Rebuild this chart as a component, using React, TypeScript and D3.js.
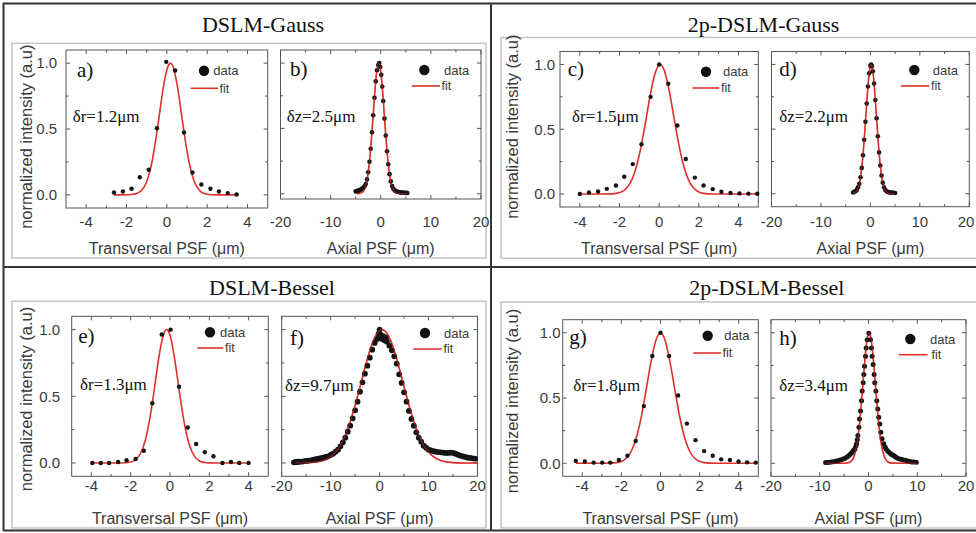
import React, { Component } from 'react'
import * as d3 from 'd3'

const SANS = '"Liberation Sans", Arial, Helvetica, sans-serif'
const SERIF = '"Liberation Serif", "Times New Roman", Times, serif'
const RED = '#e0302c'
const INK = '#3a3a3a'

const groupTitles = ['DSLM-Gauss', '2p-DSLM-Gauss', 'DSLM-Bessel', '2p-DSLM-Bessel']
const panelLetters = ['a)', 'b)', 'c)', 'd)', 'e)', 'f)', 'g)', 'h)']
const widthLabels = ['δr=1.2μm', 'δz=2.5μm', 'δr=1.5μm', 'δz=2.2μm', 'δr=1.3μm', 'δz=9.7μm', 'δr=1.8μm', 'δz=3.4μm']
const xTitles = ['Transversal PSF (μm)', 'Axial PSF (μm)']
const yTitle = 'normalized intensity (a.u)'

const transTicks = [-4, -2, 0, 2, 4]
const transMinor = [-3, -1, 1, 3]
const axialTicks = [-20, -10, 0, 10, 20]
const axialMinor = [-15, -5, 5, 15]
const yTicks = [0, 0.5, 1.0]
const yMinor = [0.25, 0.75]

// a) DSLM-Gauss, transversal
const aData = [[-2.62, 0.018], [-2.18, 0.025], [-1.75, 0.046], [-1.34, 0.134], [-0.9, 0.19], [-0.49, 0.506], [-0.03, 1.01], [0.41, 0.944], [0.85, 0.473], [1.27, 0.17], [1.71, 0.078], [2.16, 0.046], [2.58, 0.025], [3.02, 0.013], [3.46, 0.002]]
const aFit = [[-2.62, 0], [-2.25, 0], [-2.0, 0.0004], [-1.75, 0.002], [-1.5, 0.01], [-1.25, 0.035], [-1.0, 0.1], [-0.85, 0.175], [-0.75, 0.24], [-0.6, 0.37], [-0.5, 0.47], [-0.35, 0.63], [-0.25, 0.74], [-0.1, 0.88], [0, 0.95], [0.1, 0.99], [0.18, 1.0], [0.3, 0.977], [0.4, 0.92], [0.5, 0.845], [0.6, 0.75], [0.7, 0.64], [0.85, 0.48], [0.95, 0.378], [1.1, 0.25], [1.35, 0.105], [1.6, 0.036], [1.85, 0.01], [2.2, 0.001], [2.6, 0], [3.46, 0]]

// b) DSLM-Gauss, axial
const bData = [[-5.0, 0.018], [-4.8, 0.02], [-4.6, 0.022], [-4.4, 0.025], [-4.2, 0.028], [-4.0, 0.032], [-3.75, 0.038], [-3.5, 0.045], [-3.25, 0.058], [-3.0, 0.075], [-2.75, 0.11], [-2.5, 0.165], [-2.25, 0.245], [-2.0, 0.345], [-1.75, 0.47], [-1.5, 0.6], [-1.25, 0.735], [-1.0, 0.86], [-0.75, 0.945], [-0.5, 0.985], [-0.3, 1.0], [-0.1, 0.97], [0.1, 0.91], [0.3, 0.82], [0.5, 0.71], [0.75, 0.575], [1.0, 0.445], [1.25, 0.325], [1.5, 0.225], [1.75, 0.15], [2.0, 0.095], [2.25, 0.06], [2.5, 0.038], [2.75, 0.026], [3.0, 0.02], [3.3, 0.016], [3.6, 0.013], [3.9, 0.011], [4.2, 0.01], [4.5, 0.009], [4.8, 0.008], [5.1, 0.007], [5.3, 0.006]]
const bFit = [[-4.7, 0], [-4.25, 0.002], [-4.0, 0.005], [-3.75, 0.01], [-3.5, 0.019], [-3.25, 0.036], [-3.0, 0.063], [-2.75, 0.104], [-2.5, 0.164], [-2.25, 0.246], [-2.0, 0.35], [-1.75, 0.474], [-1.5, 0.609], [-1.25, 0.744], [-1.0, 0.863], [-0.75, 0.951], [-0.5, 0.996], [-0.4, 1.0], [-0.25, 0.991], [0, 0.936], [0.25, 0.841], [0.5, 0.717], [0.75, 0.582], [1.0, 0.448], [1.25, 0.328], [1.5, 0.228], [1.75, 0.151], [2.0, 0.094], [2.25, 0.056], [2.5, 0.032], [2.75, 0.017], [3.0, 0.009], [3.5, 0.002], [4.0, 0], [5.3, 0]]

// c) 2p-DSLM-Gauss, transversal
const cData = [[-4.0, 0.0], [-3.54, 0.012], [-3.08, 0.02], [-2.64, 0.04], [-2.18, 0.066], [-1.76, 0.134], [-1.33, 0.231], [-0.89, 0.384], [-0.43, 0.75], [0, 1.0], [0.46, 0.852], [0.92, 0.529], [1.34, 0.27], [1.8, 0.127], [2.24, 0.066], [2.7, 0.038], [3.14, 0.018], [3.6, 0.008], [4.05, 0.005], [4.5, 0.003], [4.95, 0.002]]
const cFit = [[-4.0, 0], [-3.0, 0], [-2.5, 0.001], [-2.25, 0.003], [-2.0, 0.011], [-1.75, 0.03], [-1.5, 0.074], [-1.25, 0.16], [-1.0, 0.303], [-0.75, 0.5], [-0.5, 0.72], [-0.25, 0.907], [0, 0.997], [0.05, 1.0], [0.25, 0.958], [0.5, 0.803], [0.75, 0.588], [1.0, 0.376], [1.25, 0.21], [1.5, 0.102], [1.75, 0.044], [2.0, 0.016], [2.25, 0.005], [2.5, 0.0015], [3.0, 0], [4.95, 0]]

// d) 2p-DSLM-Gauss, axial
const dData = [[-3.5, 0.01], [-3.25, 0.015], [-3.0, 0.02], [-2.75, 0.03], [-2.5, 0.05], [-2.25, 0.077], [-2.0, 0.128], [-1.75, 0.2], [-1.5, 0.298], [-1.25, 0.418], [-1.0, 0.556], [-0.75, 0.698], [-0.5, 0.829], [-0.25, 0.931], [0, 0.99], [0.15, 1.0], [0.3, 0.985], [0.5, 0.947], [0.75, 0.852], [1.0, 0.725], [1.25, 0.584], [1.5, 0.445], [1.75, 0.32], [2.0, 0.219], [2.25, 0.141], [2.5, 0.086], [2.75, 0.05], [3.0, 0.03], [3.25, 0.02], [3.5, 0.015], [3.75, 0.012], [4.0, 0.01], [4.25, 0.01], [4.5, 0.008], [4.75, 0.008], [5.0, 0.006]]
const dFit = [[-3.5, 0.003], [-3.0, 0.012], [-2.5, 0.044], [-2.25, 0.077], [-2.0, 0.128], [-1.75, 0.2], [-1.5, 0.298], [-1.25, 0.418], [-1.0, 0.556], [-0.75, 0.698], [-0.5, 0.829], [-0.25, 0.931], [0, 0.99], [0.15, 1.0], [0.25, 0.996], [0.5, 0.947], [0.75, 0.852], [1.0, 0.725], [1.25, 0.584], [1.5, 0.445], [1.75, 0.32], [2.0, 0.219], [2.25, 0.141], [2.5, 0.086], [2.75, 0.05], [3.0, 0.027], [3.5, 0.007], [4.0, 0.001], [5.0, 0]]

// e) DSLM-Bessel, transversal
const eData = [[-3.95, 0], [-3.52, 0], [-3.1, 0], [-2.64, 0.007], [-2.21, 0.02], [-1.75, 0.03], [-1.33, 0.092], [-0.9, 0.448], [-0.42, 0.963], [0.03, 1.0], [0.46, 0.572], [0.9, 0.266], [1.33, 0.142], [1.77, 0.08], [2.21, 0.05], [2.67, 0], [3.1, 0.007], [3.52, 0], [4.0, 0]]
const eFit = [[-4, 0], [-2.5, 0], [-2.0, 0.007], [-1.75, 0.024], [-1.5, 0.071], [-1.25, 0.174], [-1.0, 0.357], [-0.85, 0.5], [-0.75, 0.604], [-0.5, 0.85], [-0.35, 0.953], [-0.17, 1.0], [0, 0.958], [0.15, 0.858], [0.25, 0.768], [0.5, 0.511], [0.75, 0.282], [1.0, 0.129], [1.25, 0.049], [1.5, 0.015], [1.75, 0.004], [2.0, 0.001], [2.5, 0], [4, 0]]

// f) DSLM-Bessel, axial
const fData = [[-17.5, 0.005], [-17.2, 0.006], [-17, 0.008], [-16.7, 0.009], [-16.5, 0.01], [-16, 0.01], [-15.5, 0.012], [-15, 0.015], [-14.5, 0.018], [-14, 0.02], [-13.5, 0.025], [-13, 0.028], [-12.5, 0.032], [-12, 0.036], [-11.5, 0.04], [-11, 0.045], [-10.5, 0.05], [-10, 0.06], [-9.5, 0.07], [-9, 0.085], [-8.5, 0.1], [-8, 0.125], [-7.5, 0.155], [-7, 0.19], [-6.5, 0.235], [-6, 0.28], [-5.5, 0.335], [-5, 0.395], [-4.5, 0.46], [-4, 0.535], [-3.5, 0.605], [-3, 0.67], [-2.5, 0.73], [-2, 0.79], [-1.5, 0.85], [-1, 0.9], [-0.5, 0.93], [-0.2, 0.97], [0, 1.0], [0, 0.95], [0.3, 0.96], [0.5, 0.93], [0.8, 0.95], [1, 0.92], [1.3, 0.94], [1.5, 0.91], [2, 0.88], [2.5, 0.845], [3, 0.8], [3.5, 0.745], [4, 0.665], [4.5, 0.6], [5, 0.53], [5.5, 0.46], [6, 0.39], [6.5, 0.33], [7, 0.28], [7.5, 0.23], [8, 0.19], [8.5, 0.16], [9, 0.13], [9.5, 0.115], [10, 0.1], [10.5, 0.095], [11, 0.088], [11.5, 0.085], [12, 0.082], [12.5, 0.08], [13, 0.078], [13.5, 0.075], [14, 0.075], [14.5, 0.078], [15, 0.075], [15.5, 0.07], [16, 0.062], [16.5, 0.055], [17, 0.05], [17.5, 0.045], [18, 0.04], [18.5, 0.038], [19, 0.035], [19.5, 0.032]]
const fFit = [[-17.3, 0], [-14, 0.003], [-12, 0.013], [-11, 0.026], [-10, 0.047], [-9, 0.082], [-8, 0.135], [-7, 0.21], [-6, 0.31], [-5, 0.433], [-4, 0.571], [-3, 0.712], [-2, 0.841], [-1, 0.94], [0, 0.993], [0.5, 1.0], [1, 0.993], [2, 0.94], [3, 0.841], [4, 0.712], [5, 0.571], [6, 0.433], [7, 0.31], [8, 0.21], [9, 0.135], [10, 0.082], [11, 0.047], [12, 0.026], [13, 0.013], [14, 0.006], [16, 0.001], [18, 0], [20, 0]]

// g) 2p-DSLM-Bessel, transversal
const gData = [[-4.33, 0.018], [-3.87, 0.013], [-3.42, 0.005], [-2.98, 0.005], [-2.57, 0.005], [-2.13, 0.025], [-1.69, 0.058], [-1.27, 0.17], [-0.85, 0.438], [-0.42, 0.822], [0, 1.0], [0.44, 0.822], [0.9, 0.519], [1.35, 0.304], [1.79, 0.177], [2.23, 0.093], [2.67, 0.058], [3.1, 0.03], [3.55, 0.025], [3.99, 0.013], [4.43, 0.007], [4.87, 0.005]]
const gFit = [[-4.33, 0], [-3, 0], [-2.5, 0.001], [-2.25, 0.005], [-2, 0.014], [-1.75, 0.038], [-1.5, 0.09], [-1.25, 0.188], [-1, 0.343], [-0.75, 0.548], [-0.5, 0.765], [-0.25, 0.935], [0, 1], [0.25, 0.935], [0.5, 0.765], [0.75, 0.548], [1, 0.343], [1.25, 0.188], [1.5, 0.09], [1.75, 0.038], [2, 0.014], [2.25, 0.005], [2.5, 0.001], [3, 0], [4.87, 0]]

// h) 2p-DSLM-Bessel, axial
const hData = [[-8.8, 0.005], [-8.4, 0.005], [-8.0, 0.007], [-7.6, 0.01], [-7.2, 0.012], [-6.8, 0.015], [-6.4, 0.018], [-6.0, 0.023], [-5.6, 0.027], [-5.2, 0.032], [-4.8, 0.038], [-4.4, 0.048], [-4.0, 0.06], [-3.7, 0.07], [-3.4, 0.082], [-3.1, 0.097], [-2.8, 0.11], [-2.6, 0.13], [-2.45, 0.15], [-2.3, 0.18], [-2.18, 0.213], [-1.97, 0.276], [-1.84, 0.34], [-1.63, 0.4], [-1.43, 0.478], [-1.29, 0.554], [-1.09, 0.617], [-0.96, 0.68], [-0.82, 0.744], [-0.61, 0.82], [-0.48, 0.883], [-0.27, 0.947], [0.07, 0.997], [0.41, 0.947], [0.61, 0.883], [0.75, 0.82], [0.95, 0.757], [1.16, 0.68], [1.29, 0.617], [1.5, 0.554], [1.7, 0.478], [1.9, 0.415], [2.1, 0.352], [2.31, 0.301], [2.52, 0.238], [2.79, 0.187], [3.13, 0.15], [3.4, 0.125], [3.6, 0.11], [3.9, 0.095], [4.15, 0.086], [4.5, 0.075], [4.8, 0.066], [5.17, 0.06], [5.5, 0.05], [5.8, 0.043], [6.2, 0.035], [6.6, 0.03], [7.0, 0.026], [7.55, 0.023], [8.0, 0.018], [8.5, 0.013], [8.9, 0.01], [9.3, 0.009], [9.8, 0.008]]
const hFit = [[-8.8, 0], [-6, 0], [-5, 0.0003], [-4, 0.005], [-3.5, 0.017], [-3, 0.049], [-2.5, 0.119], [-2, 0.247], [-1.5, 0.441], [-1, 0.675], [-0.5, 0.885], [-0.25, 0.956], [0, 0.995], [0.13, 1], [0.25, 0.996], [0.5, 0.959], [1, 0.792], [1.5, 0.561], [2, 0.34], [2.5, 0.177], [3, 0.079], [3.5, 0.03], [4, 0.01], [5, 0.0007], [6, 0], [9.8, 0]]

// panel boxes in page pixels, legend anchors, label spots
const panels = [
  { data: aData, fit: aFit, axial: false, x0: 66, x1: 267.7, y0: 50, y1: 208, yMin: -0.1, ylab: 57, lab: [77, 76.5], wl: [72.7, 122], leg: [204, 70.7, 213.3, 190.7, 218, 88.3, 219.5], row: 0, r: 2.2 },
  { data: bData, fit: bFit, axial: true, x0: 280.5, x1: 481, y0: 50, y1: 199, yMin: -0.04, ylab: null, lab: [290, 75.5], wl: [286.7, 122], leg: [424.3, 70, 444, 411.7, 440, 86, 441.5], row: 0, r: 2.3 },
  { data: cData, fit: cFit, axial: false, x0: 560, x1: 758.3, y0: 51.5, y1: 207, yMin: -0.1, ylab: 555, lab: [567.7, 76], wl: [572, 122], leg: [706, 71.7, 723, 692.7, 719.3, 88, 721], row: 0, r: 2.2 },
  { data: dData, fit: dFit, axial: true, x0: 771.5, x1: 969.3, y0: 51.5, y1: 206.7, yMin: -0.1, ylab: null, lab: [779.3, 76], wl: [779.3, 122], leg: [914.3, 70, 932.7, 901, 929.3, 86, 931], row: 0, r: 2.3 },
  { data: eData, fit: eFit, axial: false, x0: 71.7, x1: 268.3, y0: 316.3, y1: 476.3, yMin: -0.1, ylab: 60, lab: [78.3, 343], wl: [80, 390], leg: [210, 332.3, 220, 197.3, 223.3, 348, 225], row: 1, r: 2.2 },
  { data: fData, fit: fFit, axial: true, x0: 281.7, x1: 477.5, y0: 316.3, y1: 476.3, yMin: -0.1, ylab: null, lab: [290, 344.5], wl: [285, 391], leg: [425, 333, 444, 413.3, 441.7, 349, 443.5], row: 1, r: 2.9 },
  { data: gData, fit: gFit, axial: false, x0: 562.7, x1: 758.3, y0: 319.7, y1: 476.3, yMin: -0.1, ylab: 560.5, lab: [569.3, 344], wl: [573.3, 391], leg: [707.7, 335.7, 724.3, 693.3, 721, 353, 722.5], row: 1, r: 2.2 },
  { data: hData, fit: hFit, axial: true, x0: 771, x1: 966, y0: 319.7, y1: 476.3, yMin: -0.1, ylab: null, lab: [779.3, 345], wl: [779.3, 391], leg: [910.3, 339, 930, 898.7, 927.7, 354.7, 931.5], row: 1, r: 2.5 },
]

class App extends Component {
  svgRef = React.createRef<SVGSVGElement>()

  componentDidMount() {
    this.renderChart()
  }

  componentDidUpdate() {
    this.renderChart()
  }

  renderChart() {
    const svg = d3.select(this.svgRef.current)
    svg.selectAll('*').remove()
    svg.append('rect').attr('width', 976).attr('height', 533).attr('fill', '#fff')

    // light inner frames around each group (right ones run off the page)
    const inner = [[12, 43.3, 486, 258], [501, 37.5, 985, 258.3], [12, 301.3, 486, 528], [501, 302, 985, 528]]
    svg.selectAll('.inner').data(inner).join('rect').attr('class', 'inner')
      .attr('x', d => d[0]).attr('y', d => d[1])
      .attr('width', d => d[2] - d[0]).attr('height', d => d[3] - d[1])
      .attr('fill', 'none').attr('stroke', '#c4c4c4').attr('stroke-width', 1.5)

    // dark outer frame + dividers
    const frame = [[3, 3.5, 976, 3.5], [3.5, 3, 3.5, 531], [3, 530.5, 976, 530.5], [3, 267, 976, 267], [491, 3, 491, 531]]
    svg.selectAll('.frame').data(frame).join('line').attr('class', 'frame')
      .attr('x1', d => d[0]).attr('y1', d => d[1]).attr('x2', d => d[2]).attr('y2', d => d[3])
      .attr('stroke', '#333').attr('stroke-width', 2)

    // group titles
    const titlePos = [[263, 32], [763.5, 32], [272, 295.3], [766.8, 295.3]]
    svg.selectAll('.gtitle').data(groupTitles).join('text').attr('class', 'gtitle')
      .attr('x', (d, i) => titlePos[i][0]).attr('y', (d, i) => titlePos[i][1])
      .attr('text-anchor', 'middle')
      .style('font-family', SERIF).style('font-size', '22px').attr('fill', '#111')
      .text(d => d)

    // shared y titles
    const yTitlePos = [[31.5, 136.7], [31.5, 399], [517.7, 126.7], [517.7, 401]]
    svg.selectAll('.ytitle').data(yTitlePos).join('text').attr('class', 'ytitle')
      .attr('transform', d => `translate(${d[0]}, ${d[1]}) rotate(-90)`)
      .attr('text-anchor', 'middle')
      .style('font-family', SANS).style('font-size', '16.5px').attr('fill', INK)
      .text(yTitle)

    panels.forEach((p, i) => {
      const g = svg.append('g')
      const x = d3.scaleLinear().domain(p.axial ? [-20, 20] : [-5, 5]).range([p.x0, p.x1])
      const y = d3.scaleLinear().domain([p.yMin, 1.1]).range([p.y1, p.y0])
      const xMaj = p.axial ? axialTicks : transTicks
      const xMin = p.axial ? axialMinor : transMinor

      g.append('rect')
        .attr('x', p.x0).attr('y', p.y0)
        .attr('width', p.x1 - p.x0).attr('height', p.y1 - p.y0)
        .attr('fill', 'none').attr('stroke', '#555').attr('stroke-width', 1)

      // inward ticks on all four sides
      const tickStyle = (sel) => sel.attr('stroke', '#555').attr('stroke-width', 1)
      const xt = xMaj.map(v => [v, 4]).concat(xMin.map(v => [v, 2.5]))
      const yt = yTicks.map(v => [v, 4]).concat(yMinor.map(v => [v, 2.5]))
      g.selectAll('.xtb').data(xt).join('line').attr('class', 'xtb')
        .attr('x1', d => x(d[0])).attr('x2', d => x(d[0]))
        .attr('y1', p.y1).attr('y2', d => p.y1 - d[1]).call(tickStyle)
      g.selectAll('.xtt').data(xt).join('line').attr('class', 'xtt')
        .attr('x1', d => x(d[0])).attr('x2', d => x(d[0]))
        .attr('y1', p.y0).attr('y2', d => p.y0 + d[1]).call(tickStyle)
      g.selectAll('.ytl').data(yt).join('line').attr('class', 'ytl')
        .attr('y1', d => y(d[0])).attr('y2', d => y(d[0]))
        .attr('x1', p.x0).attr('x2', d => p.x0 + d[1]).call(tickStyle)
      g.selectAll('.ytr').data(yt).join('line').attr('class', 'ytr')
        .attr('y1', d => y(d[0])).attr('y2', d => y(d[0]))
        .attr('x1', p.x1).attr('x2', d => p.x1 - d[1]).call(tickStyle)

      // tick labels (the last one is nudged so it stays on the page)
      const labY = p.row === 0 ? 226.5 : 491
      g.selectAll('.xl').data(xMaj).join('text').attr('class', 'xl')
        .attr('x', d => Math.min(x(d), 966))
        .attr('y', labY)
        .attr('text-anchor', 'middle')
        .style('font-family', SANS).style('font-size', '15px').attr('fill', INK)
        .text(d => d)
      if (p.ylab !== null) {
        g.selectAll('.yl').data(yTicks).join('text').attr('class', 'yl')
          .attr('x', p.ylab).attr('y', d => y(d) + 5.3)
          .attr('text-anchor', 'end')
          .style('font-family', SANS).style('font-size', '15px').attr('fill', INK)
          .text(d => d3.format('.1f')(d))
      }
      g.append('text')
        .attr('x', x(0)).attr('y', p.row === 0 ? 253.5 : 523.5)
        .attr('text-anchor', 'middle')
        .style('font-family', SANS).style('font-size', '16px').attr('fill', INK)
        .text(p.axial ? xTitles[1] : xTitles[0])

      // fit curve + data
      const line = d3.line().x(d => x(d[0])).y(d => y(d[1])).curve(d3.curveMonotoneX)
      g.append('path').datum(p.fit)
        .attr('d', line).attr('fill', 'none')
        .attr('stroke', RED).attr('stroke-width', 1.6)
      g.selectAll('.pt').data(p.data).join('circle').attr('class', 'pt')
        .attr('cx', d => x(d[0])).attr('cy', d => y(d[1]))
        .attr('r', p.r)
        .attr('fill', '#141414')
      if (p.axial) {
        g.append('path').datum(p.fit)
          .attr('d', line).attr('fill', 'none')
          .attr('stroke', RED).attr('stroke-width', 1.1).attr('stroke-opacity', 0.55)
      }

      // panel letter and width label
      g.append('text').attr('x', p.lab[0]).attr('y', p.lab[1])
        .style('font-family', SERIF).style('font-size', '21px').attr('fill', '#111')
        .text(panelLetters[i])
      g.append('text').attr('x', p.wl[0]).attr('y', p.wl[1])
        .style('font-family', SERIF).style('font-size', '17px').attr('fill', '#111')
        .text(widthLabels[i])

      // legend
      const L = p.leg
      g.append('circle').attr('cx', L[0]).attr('cy', L[1]).attr('r', 5.2).attr('fill', '#111')
      g.append('text').attr('x', L[2]).attr('y', L[1] + 4.5)
        .style('font-family', SANS).style('font-size', '13px').attr('fill', INK)
        .text('data')
      g.append('line').attr('x1', L[3]).attr('x2', L[4]).attr('y1', L[5]).attr('y2', L[5])
        .attr('stroke', RED).attr('stroke-width', 1.6)
      g.append('text').attr('x', L[6]).attr('y', L[5] + 4.2)
        .style('font-family', SANS).style('font-size', '12.5px').attr('fill', INK)
        .text('fit')
    })
  }

  render() {
    return (
      <svg ref={this.svgRef} width={976} height={533}
        style={{ position: 'absolute', left: 0, top: 0, display: 'block' }} />
    )
  }
}

export default App
